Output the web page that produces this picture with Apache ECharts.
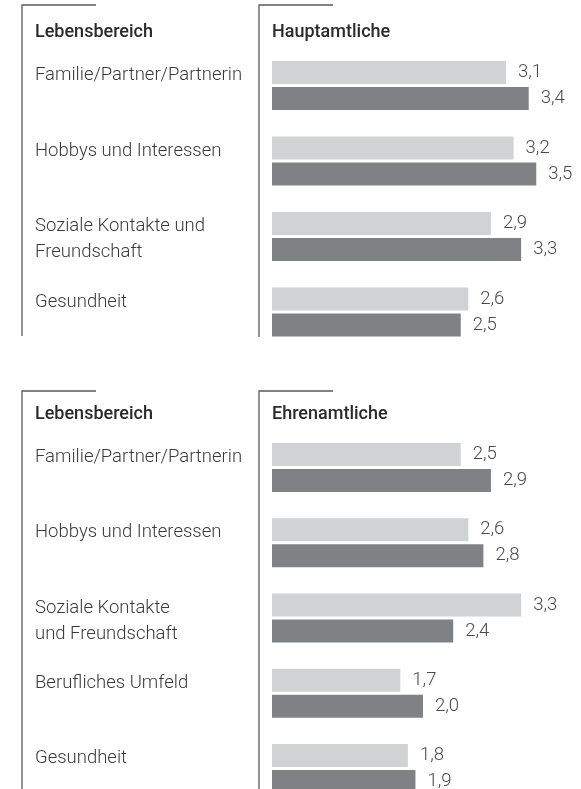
<!DOCTYPE html>
<html>
<head>
<meta charset="utf-8">
<script src="https://cdn.jsdelivr.net/npm/echarts@6/dist/echarts.min.js"></script>
<style>
  html, body { margin: 0; padding: 0; background: #fff; }
  #chart { width: 581px; height: 789px; }
</style>
</head>
<body>
<div id="chart"></div>
<script>
// Hauptamtliche (oben)
const categoriesHaupt = ['Familie/Partner/Partnerin', 'Hobbys und Interessen', 'Soziale Kontakte und\nFreundschaft', 'Gesundheit']
const hauptLight = [3.1, 3.2, 2.9, 2.6]
const hauptDark = [3.4, 3.5, 3.3, 2.5]

// Ehrenamtliche (unten)
const categoriesEhren = ['Familie/Partner/Partnerin', 'Hobbys und Interessen', 'Soziale Kontakte\nund Freundschaft', 'Berufliches Umfeld', 'Gesundheit']
const ehrenLight = [2.5, 2.6, 3.3, 1.7, 1.8]
const ehrenDark = [2.9, 2.8, 2.4, 2.0, 1.9]

const FONT = 'Roboto, "Noto Sans", sans-serif'
const TEXT = '#3a3a3a'
const LIGHT = '#d1d2d4'
const DARK = '#808184'
const LINE = '#5a5a5a'

const chart = echarts.init(document.getElementById('chart'))

// Label auf Höhe des hellen Balkens: kleine Leerzeile oben, einzeilige Labels bekommen eine leere zweite Zeile
const catLabel = {
  interval: 0,
  align: 'left',
  margin: 237,
  color: TEXT,
  fontFamily: FONT,
  fontWeight: 300,
  fontSize: 18.5,
  formatter: (v) => {
    const lines = v.split('\n')
    if (lines.length === 1) lines.push(' ')
    return '{s| }\n' + lines.map((l) => '{t|' + l + '}').join('\n')
  },
  rich: {
    s: { fontSize: 4, lineHeight: 6, height: 6 },
    t: { color: TEXT, fontFamily: FONT, fontWeight: 300, fontSize: 18.5, lineHeight: 26 }
  }
}

const valueLabel = {
  show: true,
  position: 'right',
  distance: 12,
  color: '#4a4a4a',
  fontFamily: FONT,
  fontWeight: 300,
  fontSize: 18.5,
  formatter: (p) => p.value.toFixed(1).replace('.', ',')
}

function barSeries(idx, light, dark) {
  return [
    {
      type: 'bar', xAxisIndex: idx, yAxisIndex: idx,
      barWidth: 23, barGap: '13%', clip: false,
      itemStyle: { color: LIGHT },
      label: valueLabel,
      silent: true,
      data: light
    },
    {
      type: 'bar', xAxisIndex: idx, yAxisIndex: idx,
      barWidth: 23, barGap: '13%', clip: false,
      itemStyle: { color: DARK },
      label: valueLabel,
      silent: true,
      data: dark
    }
  ]
}

function header(x, y, text) {
  return {
    type: 'text', x: x, y: y,
    style: {
      text: text, fill: '#2a2a2a',
      font: '500 18px ' + FONT,
      textVerticalAlign: 'middle'
    }
  }
}

function frame(points) {
  return {
    type: 'polyline',
    shape: { points: points },
    style: { stroke: LINE, lineWidth: 1.3, fill: null }
  }
}

// Kategorien sitzen auf den Ticks (boundaryGap: false), Abstand ca. 75 px
const option = {
  animation: false,
  grid: [
    { left: 272, top: 85.5, width: 302, height: 226.5, outerBoundsMode: 'none' },
    { left: 272, top: 467.5, width: 302, height: 301, outerBoundsMode: 'none' }
  ],
  xAxis: [0, 1].map((i) => ({
    type: 'value', gridIndex: i, min: 0, max: 4, show: false
  })),
  yAxis: [
    {
      type: 'category', gridIndex: 0, inverse: true, boundaryGap: false, data: categoriesHaupt,
      axisLine: { show: false }, axisTick: { show: false }, splitLine: { show: false }, axisLabel: catLabel
    },
    {
      type: 'category', gridIndex: 1, inverse: true, boundaryGap: false, data: categoriesEhren,
      axisLine: { show: false }, axisTick: { show: false }, splitLine: { show: false }, axisLabel: catLabel
    }
  ],
  series: [
    ...barSeries(0, hauptLight, hauptDark),
    ...barSeries(1, ehrenLight, ehrenDark)
  ],
  graphic: [
    frame([[96, 5], [22, 5], [22, 336]]),
    frame([[333, 5], [259, 5], [259, 337]]),
    frame([[96, 391], [22, 391], [22, 789]]),
    frame([[333, 391], [259, 391], [259, 789]]),
    header(35, 32, 'Lebensbereich'),
    header(272, 32, 'Hauptamtliche'),
    header(35, 414, 'Lebensbereich'),
    header(272, 414, 'Ehrenamtliche')
  ]
}

chart.setOption(option)
</script>
</body>
</html>
